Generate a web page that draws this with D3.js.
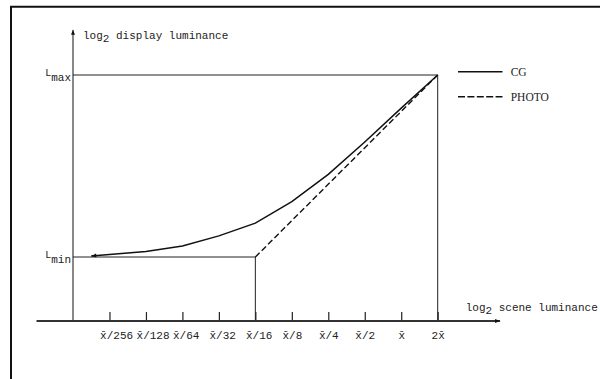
<!DOCTYPE html>
<html>
<head>
<meta charset="utf-8">
<script src="https://cdn.jsdelivr.net/npm/d3@7/dist/d3.min.js"></script>
<style>
  html, body { margin: 0; padding: 0; background: #fff; }
  svg { display: block; }
  .mono { font-family: "Liberation Mono", "Courier New", monospace; font-size: 11px; fill: #222; }
  .serif { font-family: "Liberation Serif", "Times New Roman", serif; font-size: 11.5px; fill: #222; }
</style>
</head>
<body>
<svg id="chart" width="600" height="379"></svg>
<script>
// Scene luminance in stops (log2) relative to the mean x̄
const tickStops = [-8, -7, -6, -5, -4, -3, -2, -1, 0, 1];
const tickLabels = ["x\u0304/256", "x\u0304/128", "x\u0304/64", "x\u0304/32", "x\u0304/16",
                    "x\u0304/8", "x\u0304/4", "x\u0304/2", "x\u0304", "2x\u0304"];

// Display luminance in stops above L_min
const Lmin = 0;
const Lmax = 5;

// CG mapping: smooth roll-off toward L_min
const cgScene   = [1, 0, -1, -2, -3, -4, -5, -6, -7, -8, -8.5];
const cgDisplay = [5.0, 4.09, 3.16, 2.27, 1.52, 0.93, 0.58, 0.30, 0.15, 0.07, 0.03];

// PHOTO mapping: clipped at L_min below x̄/16, linear above
const photoScene   = [-4, 1];
const photoDisplay = [0, 5];

const legendNames = ["CG", "PHOTO"];

const svg = d3.select("#chart");

// scales: one stop per unit on both axes
const x = d3.scaleLinear().domain([-9, 1]).range([73, 437.7]);
const y = d3.scaleLinear().domain([Lmin, Lmax]).range([257, 75]);

const xAxisFrom = -10, xAxisTo = 2.71;   // extent of the scene axis
const yAxisFrom = -1.76, yAxisTo = 6.24; // extent of the display axis

// frame
svg.append("path")
  .attr("d", "M11,379 V6.7 H600")
  .attr("fill", "none").attr("stroke", "#111").attr("stroke-width", 2);

// arrowheads
const defs = svg.append("defs");
defs.append("marker").attr("id", "arrowSmall")
  .attr("viewBox", "0 0 10 10").attr("refX", 10).attr("refY", 5)
  .attr("markerUnits", "userSpaceOnUse").attr("markerWidth", 5).attr("markerHeight", 5)
  .attr("orient", "auto")
  .append("path").attr("d", "M0,1 L10,5 L0,9 Z").attr("fill", "#111");
defs.append("marker").attr("id", "arrowCurve")
  .attr("viewBox", "0 0 10 10").attr("refX", 10).attr("refY", 5)
  .attr("markerUnits", "userSpaceOnUse").attr("markerWidth", 7).attr("markerHeight", 5)
  .attr("orient", "auto")
  .append("path").attr("d", "M0,1 L10,5 L0,9 Z").attr("fill", "#111");

// reference lines for L_max and L_min
svg.append("path")
  .attr("d", `M${x(-9)},${y(Lmax)} H${x(1)} V${y(yAxisFrom)}`)
  .attr("fill", "none").attr("stroke", "#222").attr("stroke-width", 1);
svg.append("path")
  .attr("d", `M${x(-9)},${y(Lmin)} H${x(-4)} V${y(yAxisFrom)}`)
  .attr("fill", "none").attr("stroke", "#222").attr("stroke-width", 1);

// display luminance axis
svg.append("line")
  .attr("x1", x(-9)).attr("x2", x(-9))
  .attr("y1", y(yAxisFrom)).attr("y2", y(yAxisTo))
  .attr("stroke", "#111").attr("stroke-width", 1)
  .attr("marker-end", "url(#arrowSmall)");

// scene luminance axis with ticks pointing up
const xAxis = d3.axisBottom(x)
  .tickValues(tickStops)
  .tickSizeInner(-9).tickSizeOuter(0)
  .tickFormat((d, i) => tickLabels[i]);
const gx = svg.append("g")
  .attr("transform", `translate(0,${y(yAxisFrom)})`)
  .call(xAxis);
gx.select(".domain").remove();
gx.selectAll(".tick line").attr("stroke", "#222").attr("stroke-width", 1.2);
gx.selectAll(".tick text")
  .attr("class", "mono")
  .attr("fill", null)
  .attr("y", 18)
  .attr("dy", 0)
  .attr("text-anchor", (d, i) => tickLabels[i].includes("/") ? "start" : "middle")
  .attr("dx", (d, i) => tickLabels[i].includes("/") ? -9.9 : 0);
svg.append("line")
  .attr("x1", x(xAxisFrom)).attr("x2", x(xAxisTo))
  .attr("y1", y(yAxisFrom)).attr("y2", y(yAxisFrom))
  .attr("stroke", "#333").attr("stroke-width", 2)
  .attr("marker-end", "url(#arrowSmall)");

// axis titles
const yTitle = svg.append("text").attr("class", "mono")
  .attr("x", x(-9) + 10).attr("y", 38.5);
yTitle.append("tspan").text("log");
yTitle.append("tspan").attr("dy", 3).text("2");
yTitle.append("tspan").attr("dy", -3).text(" display luminance");

const xTitle = svg.append("text").attr("class", "mono")
  .attr("x", 465.7).attr("y", 311);
xTitle.append("tspan").text("log");
xTitle.append("tspan").attr("dy", 3).text("2");
xTitle.append("tspan").attr("dy", -3).text(" scene luminance");

// L_max / L_min labels
[["max", Lmax], ["min", Lmin]].forEach(([sub, v]) => {
  const t = svg.append("text").attr("class", "mono")
    .attr("x", 71).attr("y", y(v) + 1).attr("text-anchor", "end");
  t.append("tspan").attr("font-size", 10).text("L");
  t.append("tspan").attr("dy", 4.5).text(sub);
});

const line = d3.line().x(d => x(d[0])).y(d => y(d[1]));

// PHOTO curve
svg.append("path")
  .datum(d3.zip(photoScene, photoDisplay))
  .attr("d", line)
  .attr("fill", "none").attr("stroke", "#111").attr("stroke-width", 1.4)
  .attr("stroke-dasharray", "6,3");

// CG curve
svg.append("path")
  .datum(d3.zip(cgScene, cgDisplay))
  .attr("d", line)
  .attr("fill", "none").attr("stroke", "#111").attr("stroke-width", 1.5)
  .attr("marker-end", "url(#arrowCurve)");

// legend
const legend = svg.append("g").attr("transform", "translate(458,0)");
legendNames.forEach((name, i) => {
  const yy = 71.7 + i * 25;
  legend.append("line")
    .attr("x1", 0).attr("x2", 44.5).attr("y1", yy).attr("y2", yy)
    .attr("stroke", "#111").attr("stroke-width", 1.5)
    .attr("stroke-dasharray", i === 0 ? null : "7,2.4");
  legend.append("text").attr("class", "serif")
    .attr("x", 52.7).attr("y", yy + 4.5).text(name);
});
</script>
</body>
</html>
